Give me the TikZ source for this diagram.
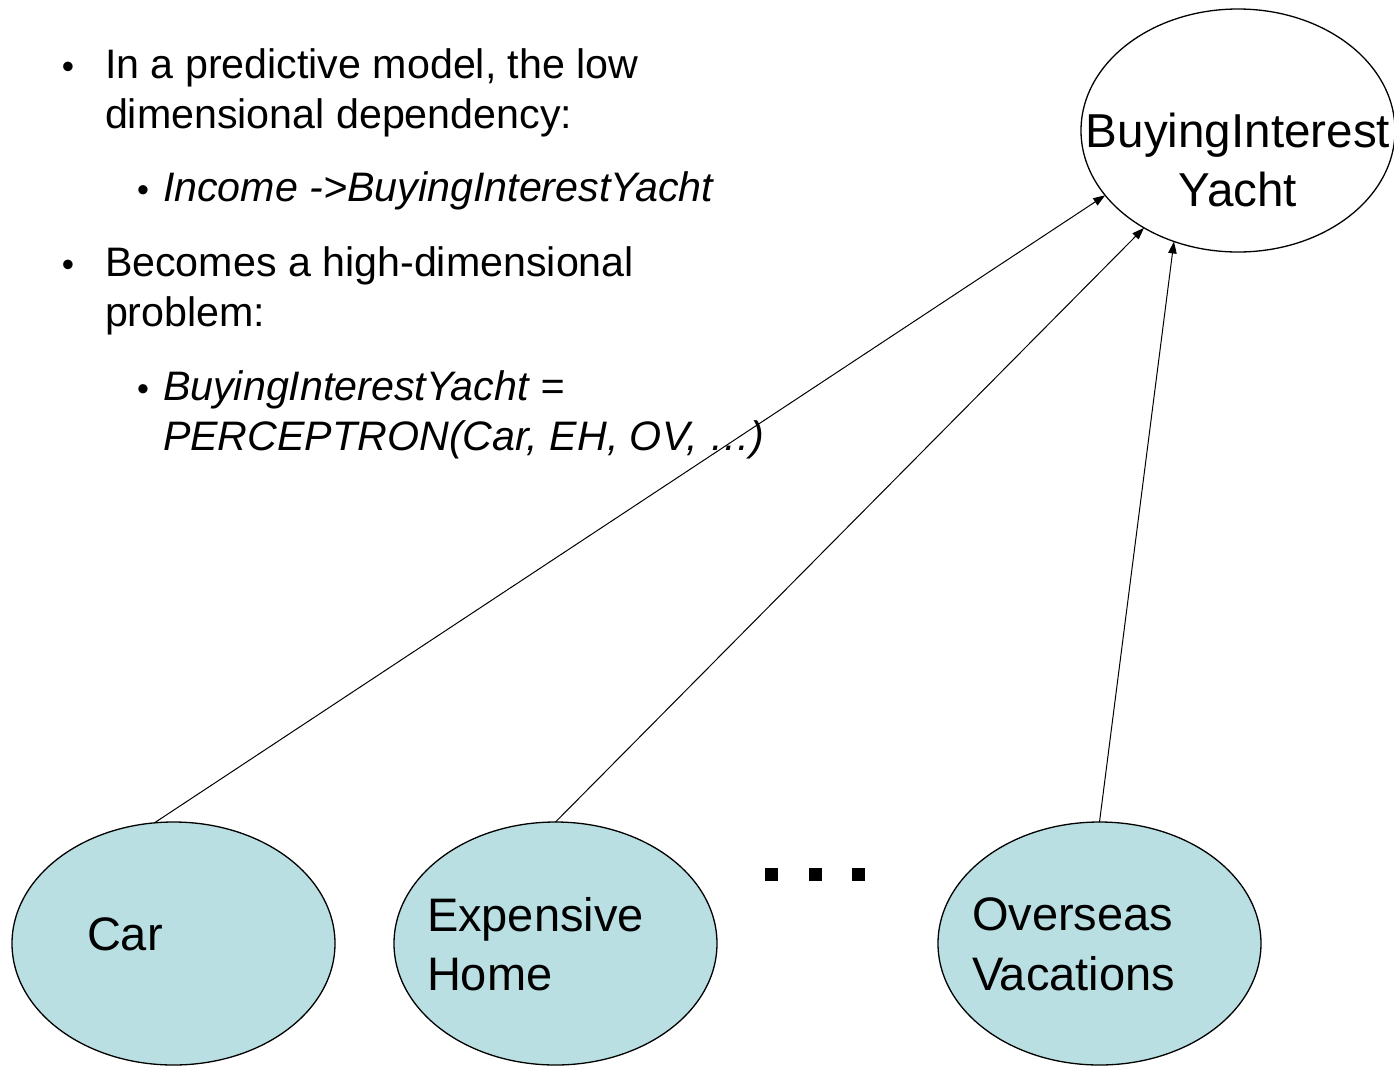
\documentclass[tikz,border=0pt]{standalone}
\usepackage{fontspec}
\setmainfont{Liberation Sans}
\usetikzlibrary{arrows.meta,shapes.geometric}
\definecolor{nodeblue}{RGB}{185,223,227}
\tikzset{
  bubble/.style={ellipse,draw=black,line width=0.65pt,fill=nodeblue,inner sep=0pt,outer sep=0pt,
    minimum width=161.5pt,minimum height=121.5pt},
  target/.style={ellipse,draw=black,line width=0.65pt,fill=white,inner sep=0pt,outer sep=0pt,
    minimum width=157pt,minimum height=121.5pt},
  label/.style={inner sep=0pt,outer sep=0pt,anchor=base west,font=\fontsize{23.5pt}{28pt}\selectfont},
  toplabel/.style={inner sep=0pt,outer sep=0pt,anchor=base,font=\fontsize{23.8pt}{28pt}\selectfont},
  btext/.style={inner sep=0pt,outer sep=0pt,anchor=base west,font=\fontsize{20.6pt}{25pt}\selectfont},
  bsub/.style={btext,font=\itshape\fontsize{20.6pt}{25pt}\selectfont},
  bdot/.style={inner sep=0pt,outer sep=0pt,anchor=base,font=\fontsize{17.5pt}{25pt}\selectfont},
  sdot/.style={inner sep=0pt,outer sep=0pt,anchor=base,font=\fontsize{17pt}{20pt}\selectfont},
  dotsq/.style={rectangle,fill=black,inner sep=0pt,outer sep=0pt,minimum size=6.5pt},
  arr/.style={draw=black,line width=0.5pt,-{Triangle[length=6pt,width=4.2pt]}}
}
\begin{document}
\begin{tikzpicture}[x=0.5pt,y=-0.5pt]
\useasboundingbox (0,0) rectangle (1394,1067);
% bullet text
\node[bdot] (b1) at (68,78) {•};
\node[btext] (t1a) at (105,78) {In a predictive model, the low};
\node[btext] (t1b) at (105,128) {dimensional dependency:};
\node[sdot] (s1) at (143,201) {•};
\node[bsub] (t2) at (163,201) {Income ->BuyingInterestYacht};
\node[bdot] (b2) at (68,276) {•};
\node[btext] (t3a) at (105,276) {Becomes a high-dimensional};
\node[btext] (t3b) at (105,326) {problem:};
\node[sdot] (s2) at (143,400) {•};
\node[bsub] (t4a) at (163,400) {BuyingInterestYacht =};
\node[bsub] (t4b) at (163,450) {PERCEPTRON(Car, EH, OV, \ldots)};
% target node
\node[target] (top) at (1238,130.5) {};
\node[toplabel] (topa) at (1238,147) {BuyingInterest};
\node[toplabel] (topb) at (1238,206) {Yacht};
% input nodes
\node[bubble] (car) at (173.5,943.5) {};
\node[label] (cartxt) at (87,950) {Car};
\node[bubble] (exp) at (555.5,943.5) {};
\node[label] (expa) at (427,931) {Expensive};
\node[label] (expb) at (427,990) {Home};
\node[bubble] (ovs) at (1099.5,943.5) {};
\node[label] (ovsa) at (972,930) {Overseas};
\node[label] (ovsb) at (972,990) {Vacations};
% ellipsis dots
\node[dotsq] (d1) at (771,874) {};
\node[dotsq] (d2) at (815,874) {};
\node[dotsq] (d3) at (858,874) {};
% arrows
\draw[arr] (car.99) -- (top.206);
\draw[arr] (exp.north) -- (top.226);
\draw[arr] (ovs.north) -- (top.240.5);
\end{tikzpicture}
\end{document}
